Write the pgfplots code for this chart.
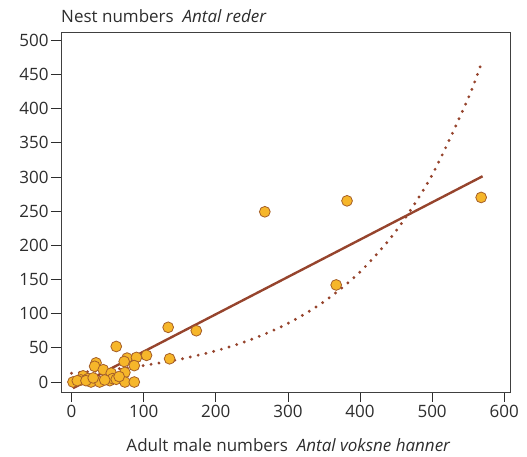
\documentclass[border=0pt]{standalone}
\usepackage{pgfplots}
\pgfplotsset{compat=1.18}
\usepackage{fontspec}
\setmainfont{Open Sans}
\definecolor{lineb}{RGB}{150,68,45}
\definecolor{mfill}{RGB}{246,182,42}
\definecolor{medge}{RGB}{165,95,40}
\definecolor{txt}{RGB}{45,45,45}
\begin{document}
\begin{tikzpicture}
\begin{axis}[
  width=449pt, height=360pt, scale only axis,
  xmin=-14.6, xmax=608, ymin=-14.6, ymax=512,
  xtick={0,100,...,600}, ytick={0,50,...,500},
  tick align=outside, tick pos=left,
  major tick length=10pt,
  tick style={txt, line width=0.7pt},
  axis line style={line width=0.7pt, black!75},
  /pgf/number format/assume math mode=true,
  ticklabel style={font=\fontsize{17}{19}\selectfont, text=txt},
  yticklabel style={xshift=1pt},
  clip=false,
]
\addplot[lineb, line width=2.4pt] coordinates {(2,-9) (570,301)};
\addplot[lineb, line width=3.2pt, line cap=round, dash pattern=on 0pt off 8pt, smooth] coordinates {
(0,12.9) (50,17.7) (100,24.2) (150,33.3) (200,45.6) (250,62.5) (300,85.7) (350,117.5) (400,161) (450,221) (500,303) (550,415) (570,472)};
\addplot[only marks, mark=*, mark size=5.4pt, mark options={fill=mfill, draw=medge, line width=0.8pt}] coordinates {
(268,249) (382,265) (568,270) (367,142) (173,75) (134,80) (136,34) (62,52) (104,39)
(77,35) (90,36) (73,30) (87,24) (34,28) (32,23) (44,18) (74,14) (55,13) (16,9) (23,5)
(2,0) (13,3) (27,0) (39,0) (53,2) (57,5) (62,4) (74,0) (87,0) (46,3) (8,2) (20,2) (66,8) (30,6)};
\node[anchor=base west, font=\fontsize{17}{19}\selectfont, text=txt, inner sep=0pt] at (rel axis cs:0,1) [yshift=9pt] {Nest numbers\ \ \textit{Antal reder}};
\node[anchor=base, font=\fontsize{17}{19}\selectfont, text=txt, inner sep=0pt] at (rel axis cs:0.5,0) [xshift=3pt, yshift=-60pt] {Adult male numbers\ \ \textit{Antal voksne hanner}};
\end{axis}
\pgfresetboundingbox
\path (-61pt,-65pt) rectangle (466pt,392pt);
\end{tikzpicture}
\end{document}
